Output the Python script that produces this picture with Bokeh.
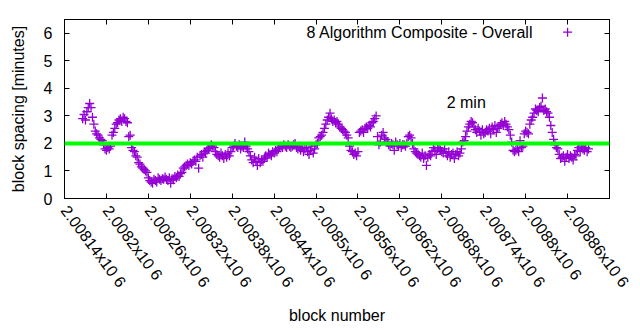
import math
from bokeh.plotting import figure
from bokeh.models import Span, Label, LinearAxis, FixedTicker, Range1d
from bokeh.embed import file_html
from bokeh.resources import INLINE

# ---- data ----
first_block = 2008166
block_step = 2
spacing = [
    2.9, 3.05, 2.85, 3.15, 3.3, 3.45, 3.3, 2.95, 2.7, 2.45,
    2.35, 2.3, 2.2, 2.15, 2.1, 1.95, 1.8, 1.75, 1.85, 1.8,
    1.9, 2.3, 2.4, 2.55, 2.7, 2.75, 2.85, 2.9, 2.8, 2.95,
    2.9, 2.8, 2.75, 2.25, 2.3, 1.85, 1.75, 1.7, 1.55, 1.5,
    1.3, 1.25, 1.15, 1.1, 1.05, 1.0, 0.95, 0.75, 0.65, 0.6,
    0.55, 0.7, 0.65, 0.6, 0.75, 0.7, 0.65, 0.72, 0.7, 0.78,
    0.7, 0.65, 0.75, 0.55, 0.72, 0.68, 0.8, 0.75, 0.85, 0.8,
    0.9, 0.95, 1.1, 1.15, 1.2, 1.25, 1.2, 1.3, 1.25, 1.35,
    1.4, 1.35, 1.5, 1.1, 1.55, 1.6, 1.5, 1.7, 1.65, 1.75,
    1.8, 1.85, 1.95, 1.9, 1.85, 1.7, 1.6, 1.55, 1.5, 1.65,
    1.55, 1.45, 1.6, 1.5, 1.65, 1.55, 1.7, 1.85, 1.9, 2.0,
    1.9, 1.85, 1.95, 1.8, 1.9, 1.85, 2.05, 1.9, 1.8, 1.7,
    1.55, 1.4, 1.3, 1.5, 1.35, 1.2, 1.45, 1.3, 1.4, 1.35,
    1.45, 1.55, 1.5, 1.65, 1.6, 1.55, 1.7, 1.65, 1.75, 1.7,
    1.8, 1.85, 1.9, 1.85, 1.95, 1.9, 1.85, 1.95, 1.9, 1.85,
    1.9, 1.95, 2.0, 1.85, 1.8, 1.9, 1.75, 1.85, 1.7, 1.8,
    1.85, 1.7, 1.6, 1.75, 1.9, 1.65, 1.8, 1.95, 2.0, 2.2,
    2.25, 2.3, 2.4, 2.55, 2.7, 2.85, 2.95, 3.1, 2.9, 2.8,
    2.85, 2.75, 2.8, 2.7, 2.6, 2.55, 2.5, 2.45, 2.4, 2.3,
    2.2, 1.9, 1.75, 1.7, 1.6, 1.65, 1.55, 1.7, 2.4, 2.45,
    2.5, 2.4, 2.55, 2.6, 2.55, 2.65, 2.6, 2.75, 2.8, 2.9,
    3.0, 2.25, 1.95, 2.05, 2.3, 2.4, 2.2, 2.15, 2.05, 1.95,
    1.9, 2.0, 1.95, 1.75, 2.05, 1.95, 1.9, 2.0, 1.85, 1.95,
    1.95, 1.9, 2.0, 2.25, 2.3, 2.2, 2.0, 1.8, 1.7, 1.65,
    1.6, 1.55, 1.5, 1.65, 1.45, 1.55, 1.2, 1.5, 1.6, 1.55,
    1.7, 1.85, 1.75, 1.6, 1.8, 1.85, 1.75, 1.7, 1.65, 1.8,
    1.65, 1.55, 1.7, 1.5, 1.6, 1.65, 1.45, 1.6, 1.7, 1.55,
    1.65, 1.8, 2.05, 2.1, 2.25, 2.45, 2.6, 2.7, 2.8, 2.75,
    2.6, 2.5, 2.4, 2.55, 2.45, 2.3, 2.5, 2.35, 2.4, 2.5,
    2.45, 2.55, 2.35, 2.6, 2.5, 2.65, 2.4, 2.55, 2.6, 2.7,
    2.75, 2.65, 2.8, 2.7, 2.6, 2.5, 2.3, 2.05, 1.75, 1.7,
    1.75, 1.8, 1.7, 2.1, 1.85, 1.9, 2.35, 2.45, 2.4, 2.35,
    2.7, 2.85, 2.95, 3.1, 3.25, 3.2, 3.15, 3.3, 3.35, 3.65,
    3.2, 3.25, 3.15, 3.1, 2.95, 2.65, 2.4, 2.15, 1.95, 1.85,
    1.8, 1.6, 1.45, 1.5, 1.55, 1.35, 1.5, 1.6, 1.45, 1.55,
    1.5, 1.4, 1.6, 1.55, 1.75, 1.85, 1.7, 1.9, 1.8, 1.75, 1.85, 1.7, 1.8,
]
blocks = [first_block + block_step * i for i in range(len(spacing))]

x_ticks = list(range(2008140, 2008921, 60))


def tick_text(t):
    return f"{t / 1e6:.5f}".rstrip("0") + "x10 6"


# the last tick sits on the right border; its text is drawn as a free label
x_tick_labels = {t: tick_text(t) for t in x_ticks[:-1]}
x_tick_labels[x_ticks[-1]] = ""
y_ticks = [0, 1, 2, 3, 4, 5, 6]
target_minutes = 2
series_label = "8 Algorithm Composite - Overall"
target_label = "2 min"
x_label = "block number"
y_label = "block spacing [minutes]"

FONT = "Liberation Sans"
FS = "16px"
PURPLE = "#9400d3"
ANGLE = -0.93
Y0, Y1 = 0, 6.5

p = figure(width=640, height=330, output_backend="svg", toolbar_location=None,
           x_range=Range1d(x_ticks[0], x_ticks[-1]), y_range=Range1d(Y0, Y1),
           min_border_left=64, min_border_right=31, min_border_top=19,
           min_border_bottom=132)
p.background_fill_color = "white"
p.border_fill_color = "white"
p.outline_line_color = "black"
p.outline_line_width = 1
p.xgrid.visible = False
p.ygrid.visible = False

marker_style = dict(marker="cross", size=9, line_color=PURPLE, line_width=1.3)
r = p.scatter(blocks, spacing, **marker_style)

p.add_layout(Span(location=target_minutes, dimension="width",
                  line_color="#00ff00", line_width=4))


def style(ax):
    ax.major_tick_in = 5
    ax.major_tick_out = 0
    ax.minor_tick_line_color = None
    ax.axis_line_color = "black"
    ax.major_label_text_font = FONT
    ax.major_label_text_font_size = FS
    ax.major_label_text_color = "black"
    ax.axis_label_text_font = FONT
    ax.axis_label_text_font_size = FS
    ax.axis_label_text_font_style = "normal"
    ax.axis_label_text_color = "black"


xa = p.xaxis[0]
style(xa)
xa.ticker = FixedTicker(ticks=x_ticks)
xa.major_label_overrides = x_tick_labels
xa.major_label_orientation = ANGLE
xa.major_label_standoff = 9
xa.axis_label = x_label
xa.axis_label_standoff = 9

ya = p.yaxis[0]
style(ya)
ya.ticker = FixedTicker(ticks=y_ticks)
ya.major_label_standoff = 12
ya.axis_label = y_label
ya.axis_label_standoff = 14

top = LinearAxis(ticker=FixedTicker(ticks=x_ticks))
style(top)
top.major_label_text_font_size = "4px"
top.major_label_text_color = None
top.major_label_standoff = 0
p.add_layout(top, "above")

right = LinearAxis(ticker=FixedTicker(ticks=y_ticks))
style(right)
right.major_label_text_font_size = "4px"
right.major_label_text_color = None
right.major_label_standoff = 0
p.add_layout(right, "right")

# last tick label, hanging below the axis at the right border
p.add_layout(Label(x=x_ticks[-1], y=-0.33, text=tick_text(x_ticks[-1]), angle=ANGLE,
                   text_align="left", text_baseline="middle", text_font=FONT,
                   text_font_size=FS, text_color="black"))

# key (gnuplot style: text, then the sample on its right), placed on the
# last-but-one x tick and the top y tick
key_x = x_ticks[-2]
key_y = y_ticks[-1] + 0.04
p.scatter([key_x], [key_y], **marker_style)
p.add_layout(Label(x=key_x - 49, y=key_y, text=series_label, text_align="right",
                   text_baseline="middle", text_font=FONT, text_font_size=FS,
                   text_color="black"))
p.add_layout(Label(x=2008687, y=3.49, text=target_label, text_align="left",
                   text_baseline="middle", text_font=FONT, text_font_size=FS,
                   text_color="black"))

open("out.html", "w").write(file_html(p, INLINE))
